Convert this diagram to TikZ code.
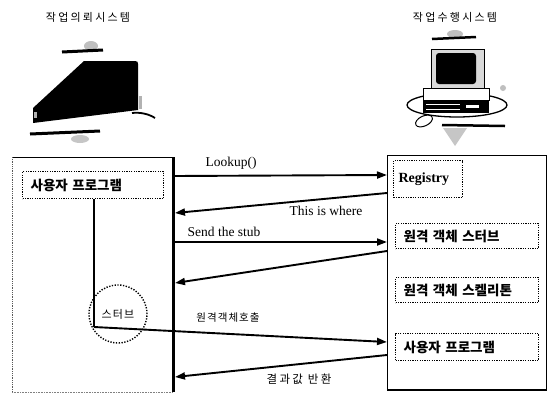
\documentclass[tikz,border=0pt]{standalone}
\usepackage{fontspec}
\setmainfont{Liberation Serif}
\newfontfamily\kr{Noto Sans CJK KR}
\newfontfamily\krsp{Noto Sans CJK KR}[LetterSpace=20]
\newfontfamily\krlbl{Noto Sans CJK KR}[LetterSpace=10]
\usetikzlibrary{arrows.meta}
\tikzset{
  titletext/.style={font=\krsp\fontsize{11}{12}\selectfont},
  dotbox/.style={draw, line width=1.2pt, dash pattern=on 1.2pt off 1.2pt,
    anchor=north west, inner ysep=0pt, inner xsep=8pt, align=left,
    font=\kr\bfseries\fontsize{13.5}{14}\selectfont},
  outerbox/.style={anchor=north west, inner sep=0pt},
  flow/.style={line width=1.9pt, -{Triangle[length=10pt,width=7pt]}},
  entext/.style={font=\fontsize{13.5}{14}\selectfont, inner sep=0pt},
  krtext/.style={font=\krlbl\fontsize{10.5}{12}\selectfont, inner sep=0pt},
  stubring/.style={circle, draw, line width=1.4pt, dash pattern=on 1.3pt off 1.5pt,
    minimum size=58pt, inner sep=0pt, font=\krlbl\fontsize{11}{12}\selectfont},
}
\begin{document}
\begin{tikzpicture}[x=1pt,y=-1pt]
\useasboundingbox (0,0) rectangle (549,392);
\fill[white] (0,0) rectangle (549,392);

% system titles
\node[titletext] (titleL) at (88,17) {작업의뢰시스템};
\node[titletext] (titleR) at (455,17) {작업수행시스템};

% laptop clip art
\fill[gray!50] (91,46) ellipse (7 and 5);
\draw[line width=3pt] (62,52) -- (103,50);
\fill[black] (84,61) -- (135,61) .. controls (137.5,61) and (138,62) .. (138,64)
  -- (138,110) -- (33,123) -- (33,108) -- cycle;
\fill[gray!60] (139,96) rectangle (142,109);
\fill[gray!60] (34,112) rectangle (37,118);
\draw[line width=1.8pt] (132,113) .. controls (140,112) and (149,114) .. (155,118);
\draw[line width=3pt] (30,134) -- (100,131);
\fill[gray!45] (80,139) ellipse (9 and 4);

% desktop computer clip art
\fill[gray!50] (455,34) ellipse (8 and 4);
\draw[line width=2.5pt] (432,39) -- (476,37);
\draw[line width=1.3pt] (457,105) ellipse (50 and 12);
\fill[gray!30] (431,49) rectangle (484,89);
\draw[line width=0.8pt] (431,49) rectangle (484,89);
\fill[black, rounded corners=3pt] (436,53) rectangle (476,84);
\draw[line width=1pt, fill=white] (423,88) rectangle (489,100);
\fill[black] (423,100) rectangle (489,113);
\draw[white, line width=0.5pt] (426,104) -- (460,104);
\draw[white, line width=0.5pt] (426,109) -- (460,109);
\fill[white] (466,105) rectangle (479,108);
\draw[line width=1pt, fill=white, rotate around={25:(424,121)}] (424,121) ellipse (9 and 5);
\draw[line width=2.5pt] (442,125) -- (505,126);
\fill[gray!45] (443,128) -- (467,128) -- (455,146) -- cycle;
\fill[gray!50] (503,88) circle (3);

% client side: outer frame with the thick lifeline on its right edge
\node[outerbox, minimum width=161pt, minimum height=235pt] (client) at (12,157) {};
\draw[line width=0.6pt] (client.north west) -- (client.north east);
\draw[gray!70!black, line width=0.8pt, densely dotted] (client.north west) -- (client.south west);
\draw[gray, line width=0.6pt, densely dotted] (client.south west) -- (client.south east);
\draw[line width=3.5pt] (client.north east) -- (client.south east);

% server side frame
\node[outerbox, draw, line width=0.9pt, minimum width=159pt, minimum height=234pt] (server) at (387,155) {};
\draw[line width=1.6pt] (server.south west) -- (server.south east);

% inner components
\node[dotbox, text width=125pt, minimum height=27pt] (userL) at (22,171) {사용자 프로그램};
\node[dotbox, text width=59pt, minimum height=37pt, inner xsep=5pt,
  font=\bfseries\fontsize{14}{15}\selectfont] (registry) at (393,160) {Registry};
\node[dotbox, text width=127pt, minimum height=25pt] (rstub) at (395,223) {원격 객체 스터브};
\node[dotbox, text width=127pt, minimum height=25pt] (rskel) at (395,277) {원격 객체 스켈리톤};
\node[dotbox, text width=127pt, minimum height=27pt] (userR) at (395,333) {사용자 프로그램};

% stub on the client side
\node[stubring] (stub) at (118,314) {스터브};
\coordinate (bend) at (94,327);

% message end points on the two lifelines
\coordinate (c1) at (173,176);   \coordinate (s1) at (387,175);
\coordinate (s2) at (387,193);   \coordinate (c2) at (175,213);
\coordinate (c3) at (173,242);   \coordinate (s3) at (387,242);
\coordinate (s4) at (387,251);   \coordinate (c4) at (175,283);
\coordinate (s5) at (387,342);
\coordinate (s6) at (387,355);   \coordinate (c6) at (175,377);

% messages
\draw[flow] (c1) -- (s1);
\draw[flow] (s2) -- (c2);
\draw[flow] (c3) -- (s3);
\draw[flow] (s4) -- (c4);
\draw[line width=1.9pt] (userL.south -| bend) -- (bend);
\draw[flow] (bend) -- (s5);
\draw[flow] (s6) -- (c6);

% message labels
\node[entext] (lbl1) at (231,163) {Lookup()};
\node[entext] (lbl2) at (326,211) {This is where};
\node[entext] (lbl3) at (224,232) {Send the stub};
\node[krtext] (lbl5) at (228,318) {원격객체호출};
\node[krtext, font=\krsp\fontsize{11.5}{12}\selectfont] (lbl6) at (299,379) {결과값 반환};
\end{tikzpicture}
\end{document}
